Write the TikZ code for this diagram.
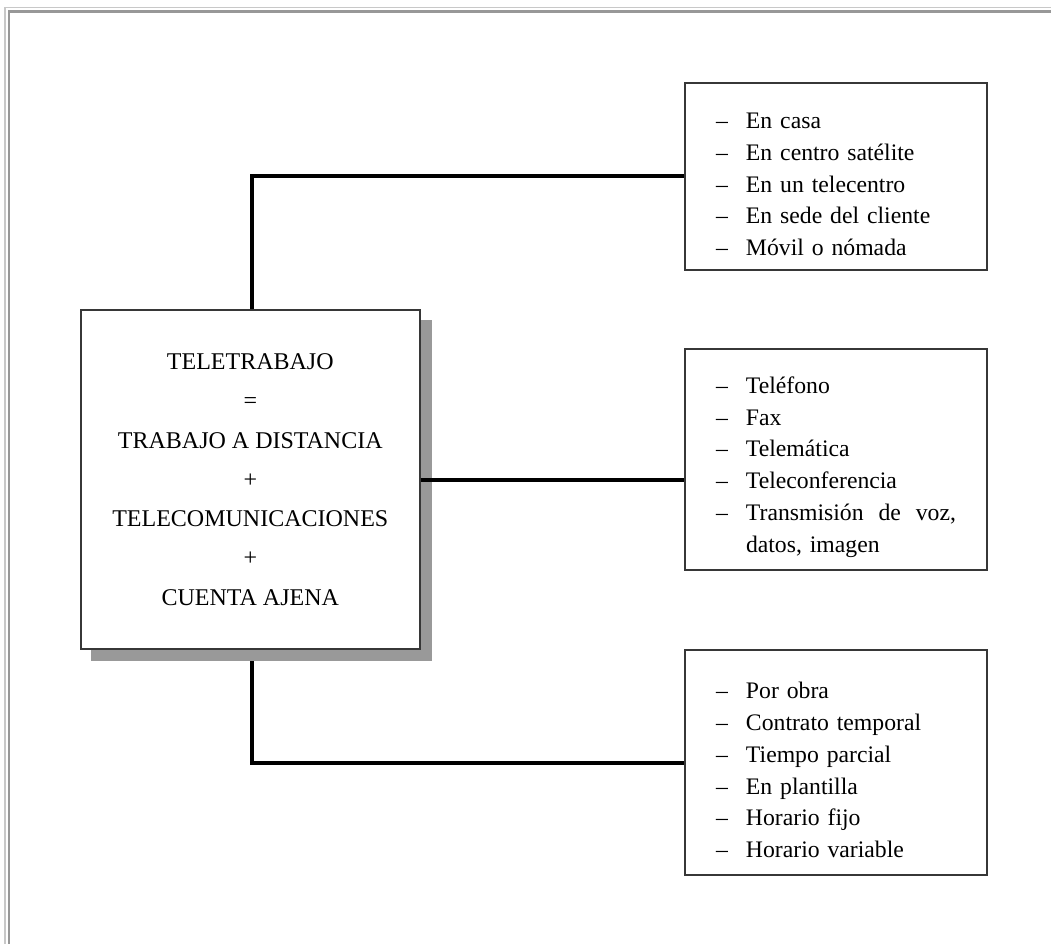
\documentclass[tikz,border=0pt]{standalone}
\usepackage{fontspec}
\setmainfont{Liberation Serif}
\usetikzlibrary{calc}
\pgfdeclarelayer{bg}
\pgfsetlayers{bg,main}
\definecolor{shadowgray}{RGB}{153,153,153}
\definecolor{framelight}{RGB}{200,200,200}
\definecolor{framedark}{RGB}{152,152,152}
\definecolor{boxline}{RGB}{55,55,55}
\newcommand\itm[1]{\par\noindent\makebox[30pt][l]{–}#1}
\begin{document}
\begin{tikzpicture}[x=1pt,y=-1pt,
  mainbox/.style={draw=boxline, line width=1.5pt, fill=white, minimum width=339pt, minimum height=339pt,
    align=center, font=\fontsize{24}{39.3}\selectfont, inner sep=0pt},
  listbox/.style={draw=boxline, line width=2pt, fill=white, text width=240pt, inner xsep=31pt, inner ysep=0pt,
    minimum width=302pt, font=\fontsize{23.7}{31.7}\selectfont, align=left},
  link/.style={line width=4pt},
  shadowbox/.style={fill=shadowgray}]
\useasboundingbox (0,0) rectangle (1051,944);
% page frame
\draw[framelight, line width=1.5pt] (4.8,944) -- (4.8,7.3) -- (1051,7.3);
\draw[framedark, line width=2.5pt] (8.8,944) -- (8.8,11.3) -- (1051,11.3);

\node[mainbox] (main) at (250.3,479.5) {TELETRABAJO\\=\\TRABAJO A DISTANCIA\\+\\TELECOMUNICACIONES\\+\\CUENTA AJENA};

\node[listbox, minimum height=187pt] (loc) at (836,176.5) {%
\itm{En casa}\itm{En centro satélite}\itm{En un telecentro}\itm{En sede del cliente}\itm{Móvil o nómada}};

\node[listbox, minimum height=221pt] (tech) at (836,459.5) {%
\itm{Teléfono}\itm{Fax}\itm{Telemática}\itm{Teleconferencia}%
\itm{\hbox to 210pt{Transmisión\hfill de\hfill voz,}}\par\noindent\hspace*{30pt}datos, imagen};

\node[listbox, minimum height=225pt] (contr) at (836,762.5) {%
\itm{Por obra}\itm{Contrato temporal}\itm{Tiempo parcial}\itm{En plantilla}\itm{Horario fijo}\itm{Horario variable}};

\begin{pgfonlayer}{bg}
\draw[link] ([xshift=2pt]main.north) |- (loc.west);
\draw[link] ([xshift=2pt]main.south) |- (contr.west);
\fill[shadowbox] ($(main.south west)+(11,11)$) rectangle ($(main.north east)+(11,11)$);
\end{pgfonlayer}
\draw[link] (main.east) -- (main.east -| tech.west);
\end{tikzpicture}
\end{document}
